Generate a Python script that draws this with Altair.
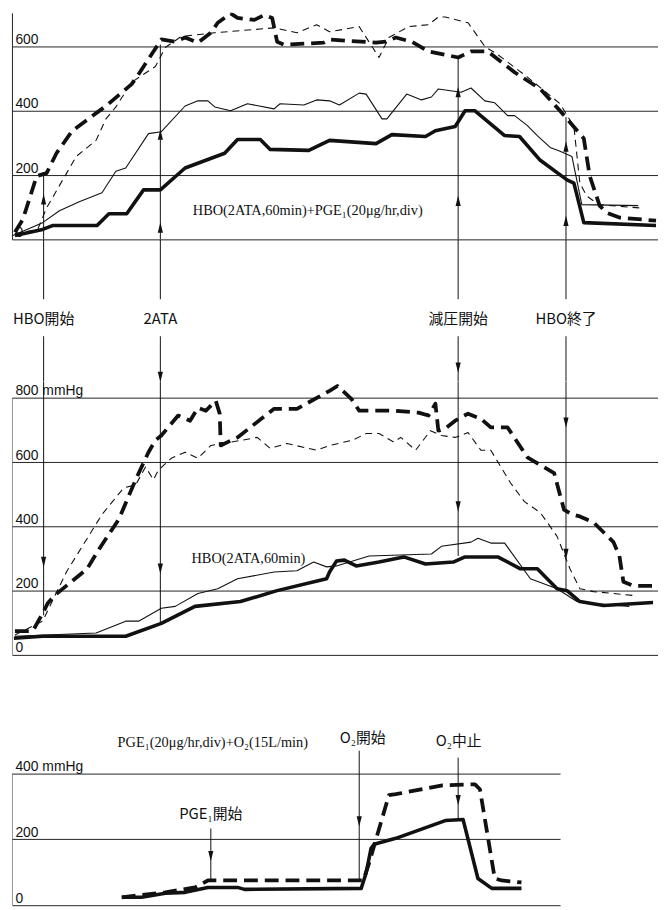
import altair as alt
import pandas as pd

# ---------------- data (time in min from HBO start, value in mmHg) ----------------
# top panel : HBO(2ATA,60min)+PGE1
top_thick_solid_t = [-5.8, -0.2, 1.8, 10.8, 13.2, 16.8, 20.2, 23.6, 28.6, 36.6, 39.2, 43.8, 45.8, 53.6, 57.8, 67.2, 70.4, 77.2, 79.2, 83.2, 85.2, 87.2, 93.2, 96.2, 100.4, 105.8, 107.2, 109.2, 123.8]
top_thick_solid_v = [12, 31, 43, 43, 80, 80, 154, 154, 222, 268, 311, 311, 280, 277, 308, 298, 326, 320, 338, 351, 400, 400, 323, 320, 246, 185, 175, 52, 43]

top_thin_solid_t = [-6.2, -0.2, 3.2, 7.2, 11.8, 14.6, 16.6, 21.2, 23.8, 28.6, 31.2, 33.2, 34.6, 37.8, 41.2, 46.6, 47.8, 52.6, 55.2, 57.8, 59.8, 63.8, 65.2, 68.4, 69.4, 73.4, 76.4, 78.4, 79.8, 84.4, 86.4, 89.2, 91.2, 93.8, 95.2, 97.8, 99.8, 102.4, 104.4, 106.8, 108.8, 120.2]
top_thin_solid_v = [12, 52, 89, 117, 145, 212, 222, 329, 335, 415, 431, 431, 412, 400, 422, 406, 422, 418, 434, 431, 418, 455, 452, 375, 375, 452, 434, 443, 468, 458, 471, 431, 425, 385, 385, 354, 323, 286, 274, 258, 108, 105]

top_thin_dashed_t = [-5.8, -1.2, 0.6, 6.6, 10.6, 12.6, 14.6, 17.8, 22.6, 24.6, 27.8, 34.6, 46.6, 51.2, 55.2, 57.8, 63.8, 67.8, 69.8, 73.8, 77.8, 79.8, 81.2, 85.8, 89.2, 91.8, 97.8, 104.4, 107.2, 108.4, 109.8, 112.2, 120.4]
top_thin_dashed_v = [18, 31, 98, 258, 308, 375, 412, 489, 538, 597, 631, 643, 658, 643, 668, 646, 662, 566, 628, 662, 668, 692, 692, 674, 600, 575, 505, 422, 351, 175, 135, 108, 98]

top_thick_dashed_t = [-5.8, -4.2, -1.4, 0.6, 2.6, 5.8, 12.6, 17.8, 19.2, 23.8, 26.6, 28.6, 31.2, 33.8, 35.2, 37.8, 39.2, 42.6, 44.6, 46.2, 47.2, 48.6, 56.6, 57.8, 67.2, 69.2, 71.2, 74.4, 77.8, 83.8, 86.4, 89.8, 95.2, 100.4, 104.4, 109.2, 110.4, 112.4, 113.8, 116.4, 123.8]
top_thick_dashed_v = [22, 62, 197, 206, 268, 338, 415, 483, 514, 622, 615, 628, 612, 643, 674, 703, 689, 683, 698, 689, 615, 606, 612, 622, 612, 615, 628, 615, 585, 566, 585, 585, 520, 468, 400, 314, 197, 105, 83, 68, 58]

# middle panel : HBO(2ATA,60min)
mid_thick_dashed_t = [-5.8, -2.2, -0.2, 0.8, 2.2, 8.8, 11.2, 15.2, 18.6, 21.2, 22.6, 23.8, 27.2, 29.6, 31.2, 32.8, 34.8, 35.6, 35.8, 39.2, 46.6, 51.2, 55.6, 57.8, 59.4, 62.2, 63.8, 71.2, 75.8, 77.8, 79.2, 79.8, 81.2, 83.2, 85.8, 88.4, 90.4, 93.8, 97.8, 100.4, 103.2, 105.2, 106.8, 108.4, 111.2, 115.2, 116.4, 117.2, 119.2, 123.8]
mid_thick_dashed_v = [74, 74, 129, 160, 185, 268, 329, 422, 545, 631, 668, 683, 745, 729, 769, 760, 791, 751, 652, 677, 766, 766, 803, 822, 837, 797, 760, 760, 754, 745, 782, 698, 705, 729, 751, 735, 708, 708, 615, 591, 566, 452, 437, 431, 412, 351, 308, 228, 215, 215]

mid_thin_dashed_t = [-5.8, -0.2, 4.6, 11.8, 16.2, 18.6, 20.6, 22.2, 23.2, 25.8, 28.6, 31.2, 33.8, 37.8, 43.2, 45.8, 49.2, 55.2, 57.8, 62.4, 65.2, 67.8, 70.8, 72.2, 75.2, 78.2, 80.4, 83.2, 85.8, 88.4, 90.4, 94.4, 97.2, 100.4, 103.8, 106.4, 108.4, 111.2, 119.2]
mid_thin_dashed_v = [62, 105, 258, 437, 520, 529, 585, 545, 575, 612, 631, 612, 652, 662, 677, 643, 658, 637, 652, 668, 689, 689, 662, 677, 637, 698, 683, 677, 692, 637, 637, 535, 477, 443, 369, 268, 206, 197, 185]

mid_thin_solid_t = [-5.8, 10.6, 16.6, 19.2, 23.8, 26.6, 31.2, 35.2, 39.2, 46.6, 51.2, 54.6, 57.2, 59.2, 65.8, 78.4, 80.4, 86.4, 87.8, 90.4, 93.2, 98.4, 103.8, 107.8, 111.2, 118.4]
mid_thin_solid_v = [58, 68, 105, 105, 145, 151, 191, 206, 237, 258, 262, 289, 274, 277, 308, 314, 338, 351, 363, 348, 348, 237, 206, 166, 160, 151]

mid_thick_solid_t = [-6.0, -0.2, 16.6, 23.8, 30.6, 39.8, 47.2, 57.2, 57.8, 59.2, 60.8, 63.2, 67.8, 72.8, 77.2, 82.8, 85.2, 91.8, 96.4, 99.8, 103.8, 105.8, 108.4, 113.2, 123.2]
mid_thick_solid_v = [52, 58, 58, 98, 151, 166, 200, 237, 258, 292, 295, 277, 289, 305, 283, 289, 305, 305, 268, 268, 206, 200, 166, 154, 163]

# bottom panel : PGE1(20µg/hr,div)+O2(15L/min)  (time in min from PGE1 start)
bot_thick_solid_t = [-18, -14, -9.2, -5.2, -0.6, 5.4, 6.8, 30.4, 31.4, 32.4, 33, 37.4, 47.4, 51, 54, 56.8, 62.8]
bot_thick_solid_v = [24, 24, 36, 39, 54, 54, 48, 51, 98, 173, 185, 203, 257, 260, 81, 51, 51]

bot_thick_dashed_t = [-18, -9.2, -3.2, -0.6, 30.8, 32, 36, 37.4, 46.8, 53.4, 54.4, 57.4, 58.8, 62.8]
bot_thick_dashed_v = [24, 39, 54, 75, 75, 128, 334, 337, 364, 367, 352, 81, 75, 69]

# events
event_labels = ["HBO開始", "2ATA", "減圧開始", "HBO終了"]
event_t = [0, 23.6, 83.8, 105.6]
top_arrow_from = [206, 606, 566, 381]          # upper end of each line in the top panel
mid_arrow_to = [123, 95, 308, 200]             # lower end of each line in the middle panel
top_heads_t = [0, 23.6, 23.6, 83.8, 83.8, 105.6, 105.6]
top_heads_v = [125, 326, 37, 458, 120, 289, 58]
mid_heads_t = [0, 23.6, 83.8, 105.6, 105.6]
mid_heads_v = [289, 268, 462, 723, 314]
band_heads_t = [23.6, 83.8]
band_heads_f = [0.965, 0.9]

bot_event_labels = ["PGE\u2081開始", "O\u2082開始", "O\u2082中止"]
bot_event_t = [0, 30, 50]
bot_label_t = [0, 30.7, 50.1]
bot_label_v = [278, 507, 498]
bot_line_from = [233, 469, 448]
bot_line_to = [75, 75, 260]
bot_heads_v = [149, 254, 319]

top_ticks = [0, 200, 400, 600]
mid_ticks = [0, 200, 400, 600, 800]
bot_ticks = [0, 200, 400]

INK = "#111111"
UP = "M-0.5,1L0.5,1L0,-1Z"
DOWN = "M-0.5,-1L0.5,-1L0,1Z"

STYLES = {
    "thick_solid": dict(strokeWidth=3.6),
    "thin_solid": dict(strokeWidth=1.1),
    "thick_dashed": dict(strokeWidth=3.8, strokeDash=[14, 7]),
    "thin_dashed": dict(strokeWidth=1.1, strokeDash=[7, 5]),
}


def yaxis(values, unit_at=None):
    kw = dict(values=values, grid=True, gridColor="#222", gridWidth=1, ticks=False, tickSize=0,
              labelAlign="left", labelBaseline="bottom", labelPadding=-3, labelFont="Liberation Sans",
              labelFontSize=14, labelColor=INK, title=None, domain=unit_at is None, domainColor="#222")
    if unit_at is not None:
        kw["labelExpr"] = "datum.value == %d ? '%d mmHg' : datum.label" % (unit_at, unit_at)
    return alt.Axis(**kw)


def panel_layers(series, X, Y):
    layers = []
    for name, t, v in series:
        df = pd.DataFrame({"t": t, "v": v, "i": list(range(len(t)))})
        layers.append(alt.Chart(df).mark_line(color=INK, strokeCap="butt", strokeJoin="round", clip=True,
                                              **STYLES[name]).encode(x=X, y=Y, order="i:Q"))
    return layers


def heads(t, v, shape, X, Y, field="v"):
    df = pd.DataFrame({"t": t, field: v})
    return alt.Chart(df).mark_point(shape=shape, size=110, filled=True, color=INK, opacity=1,
                                    strokeWidth=0).encode(x=X, y=Y)


def rules(df, X, Y, y2, color=INK):
    return alt.Chart(df).mark_rule(color=color, strokeWidth=1, clip=True).encode(x=X, y=Y, y2=y2)


W = 653
x_main = alt.Scale(domain=[-6.4, 124.2], nice=False, zero=False)
XM = alt.X("t:Q", scale=x_main, axis=None)

# ---- top panel ----
YT = alt.Y("v:Q", scale=alt.Scale(domain=[0, 705], nice=False), axis=yaxis(top_ticks))
top_rules = pd.DataFrame({"t": event_t, "v": top_arrow_from, "v2": [0] * 4})
top = alt.layer(
    *panel_layers([("thin_dashed", top_thin_dashed_t, top_thin_dashed_v),
                   ("thin_solid", top_thin_solid_t, top_thin_solid_v),
                   ("thick_dashed", top_thick_dashed_t, top_thick_dashed_v),
                   ("thick_solid", top_thick_solid_t, top_thick_solid_v)], XM, YT),
    rules(top_rules, XM, YT, "v2:Q"),
    heads(top_heads_t, top_heads_v, UP, XM, YT),
    alt.Chart(pd.DataFrame({"t": [53.4], "v": [89], "s": ["HBO(2ATA,60min)+PGE\u2081(20\u03bcg/hr,div)"]}))
    .mark_text(font="Liberation Serif", fontSize=14.5, color=INK).encode(x=XM, y=YT, text="s:N"),
).properties(width=W, height=229)

# ---- band with event labels ----
YB = alt.Y("f:Q", scale=alt.Scale(domain=[0, 1], reverse=True, nice=False), axis=None)
band_rules = pd.DataFrame({
    "t": event_t + event_t,
    "f": [0.0] * 4 + [0.68] * 4,
    "f2": [0.42] * 4 + [1.0] * 4,
})
band = alt.layer(
    rules(band_rules, XM, YB, "f2:Q"),
    alt.Chart(pd.DataFrame({"t": event_t, "f": [0.56] * 4, "s": event_labels}))
    .mark_text(font="Noto Sans CJK JP", fontSize=15, color=INK, baseline="middle").encode(x=XM, y=YB, text="s:N"),
    heads(band_heads_t, band_heads_f, DOWN, XM, YB, field="f"),
).properties(width=W, height=144)

# ---- middle panel ----
YM = alt.Y("v:Q", scale=alt.Scale(domain=[0, 850], nice=False), axis=yaxis(mid_ticks, unit_at=800))
mid_rules = pd.DataFrame({"t": event_t, "v": [850] * 4, "v2": mid_arrow_to})
mid = alt.layer(
    rules(pd.DataFrame({"t": [-6.4], "v": [0], "v2": [800]}), XM, YM, "v2:Q", color="#222"),
    *panel_layers([("thin_dashed", mid_thin_dashed_t, mid_thin_dashed_v),
                   ("thin_solid", mid_thin_solid_t, mid_thin_solid_v),
                   ("thick_dashed", mid_thick_dashed_t, mid_thick_dashed_v),
                   ("thick_solid", mid_thick_solid_t, mid_thick_solid_v)], XM, YM),
    rules(mid_rules, XM, YM, "v2:Q"),
    heads(mid_heads_t, mid_heads_v, DOWN, XM, YM),
    alt.Chart(pd.DataFrame({"t": [41.4], "v": [298], "s": ["HBO(2ATA,60min)"]}))
    .mark_text(font="Liberation Serif", fontSize=14.5, color=INK).encode(x=XM, y=YM, text="s:N"),
).properties(width=W, height=276)

# ---- bottom panel ----
XBt = alt.X("t:Q", scale=alt.Scale(domain=[-40.2, 70.6], nice=False, zero=False), axis=None)
YBt = alt.Y("v:Q", scale=alt.Scale(domain=[0, 760], nice=False), axis=yaxis(bot_ticks, unit_at=400))
bot_rules = pd.DataFrame({"t": bot_event_t, "v": bot_line_from, "v2": bot_line_to})
bottom = alt.layer(
    rules(pd.DataFrame({"t": [-40.2], "v": [0], "v2": [400]}), XBt, YBt, "v2:Q", color="#222"),
    *panel_layers([("thick_dashed", bot_thick_dashed_t, bot_thick_dashed_v),
                   ("thick_solid", bot_thick_solid_t, bot_thick_solid_v)], XBt, YBt),
    rules(bot_rules, XBt, YBt, "v2:Q"),
    heads(bot_event_t, bot_heads_v, DOWN, XBt, YBt),
    alt.Chart(pd.DataFrame({"t": bot_label_t, "v": bot_label_v, "s": bot_event_labels}))
    .mark_text(font="Noto Sans CJK JP", fontSize=15, color=INK).encode(x=XBt, y=YBt, text="s:N"),
    alt.Chart(pd.DataFrame({"t": [0.4], "v": [493], "s": ["PGE\u2081(20\u03bcg/hr,div)+O\u2082(15L/min)"]}))
    .mark_text(font="Liberation Serif", fontSize=14.5, color=INK).encode(x=XBt, y=YBt, text="s:N"),
).properties(width=554, height=253)

chart = alt.vconcat(top, band, mid, bottom, spacing=0, bounds="flush").properties(
    padding={"left": 4, "top": 0, "right": 0, "bottom": 0}, background="white"
).configure_view(stroke=None)

chart.save("out.html", embed_options={"renderer": "svg", "actions": False})
